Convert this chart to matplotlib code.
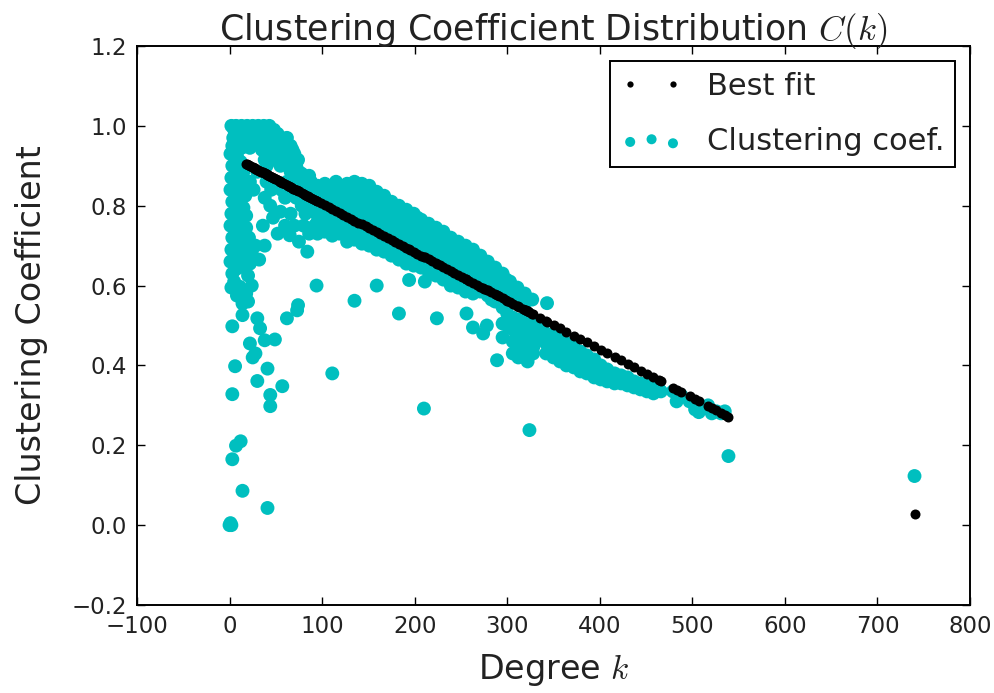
import numpy as np
import matplotlib
matplotlib.use("Agg")
import matplotlib.pyplot as plt

plt.rcParams['font.family'] = ['DejaVu Sans']
plt.rcParams['mathtext.fontset'] = 'cm'
plt.rcParams['axes.unicode_minus'] = True

# Low-degree nodes (k <= ~25), clustering 0.55 .. 0.95
column_points = [
    (1, 0.93), (4, 0.94), (8, 0.925), (13, 0.945),
    (3, 0.90), (7, 0.905), (12, 0.91),
    (2, 0.87), (6, 0.875), (10, 0.88), (15, 0.885),
    (1, 0.84), (5, 0.845), (9, 0.85), (14, 0.855), (19, 0.86),
    (3, 0.81), (7, 0.815), (12, 0.82), (17, 0.825),
    (2, 0.78), (6, 0.785), (10, 0.79), (15, 0.795), (18, 0.775),
    (1, 0.75), (4, 0.755), (9, 0.76), (13, 0.765), (18, 0.745),
    (3, 0.72), (7, 0.725), (11, 0.73), (16, 0.735), (21, 0.72),
    (2, 0.69), (6, 0.695), (10, 0.70), (14, 0.705), (19, 0.69), (24, 0.685),
    (1, 0.66), (4, 0.665), (8, 0.67), (12, 0.675), (17, 0.66), (22, 0.655),
    (3, 0.63), (6, 0.64), (10, 0.645), (15, 0.65), (20, 0.625),
    (5, 0.61), (11, 0.597), (18, 0.58), (20, 0.56), (2, 0.595), (24, 0.60),
    (8, 0.575), (14, 0.555),
]

# Nearly complete neighbourhoods (clustering close to 1)
cap_points = [
    (2, 1.0), (7, 1.0), (13, 1.0), (19, 1.0), (25, 1.0), (31, 1.0), (37, 1.0), (43, 1.0),
    (5, 0.99), (16, 0.99), (28, 0.99), (40, 0.99), (48, 0.99),
    (10, 0.98), (22, 0.98), (34, 0.98), (46, 0.98), (52, 0.98),
    (4, 0.97), (15, 0.97), (27, 0.97), (39, 0.97), (50, 0.97), (56, 0.97), (62, 0.97),
    (9, 0.96), (21, 0.96), (33, 0.96), (44, 0.96), (54, 0.96), (60, 0.96),
    (3, 0.95), (17, 0.95), (28, 0.955), (38, 0.95), (49, 0.95), (58, 0.95), (66, 0.95),
    (22, 0.945), (35, 0.94), (45, 0.94), (53, 0.94), (63, 0.94), (68, 0.94),
    (42, 0.93), (50, 0.93), (57, 0.93), (65, 0.93), (70, 0.93),
    (38, 0.915), (47, 0.915), (60, 0.915), (69, 0.915), (74, 0.915),
    (40, 0.90), (55, 0.90), (64, 0.90), (72, 0.90),
    (66, 0.885), (75, 0.885),
]

# Degrees 20..95 below the cap
mid_points = [
    (30, 0.885), (70, 0.88), (78, 0.88), (86, 0.875),
    (22, 0.86), (40, 0.86), (50, 0.86), (62, 0.86), (75, 0.86), (88, 0.86),
    (26, 0.84), (45, 0.84), (56, 0.84), (68, 0.84), (80, 0.84), (92, 0.84),
    (38, 0.82), (60, 0.82), (72, 0.82), (85, 0.82),
    (44, 0.80), (78, 0.80), (90, 0.80),
    (55, 0.785), (66, 0.78), (82, 0.78), (94, 0.78),
    (47, 0.77),
    (36, 0.75), (60, 0.75), (70, 0.75), (80, 0.75), (92, 0.75),
    (52, 0.73), (65, 0.726), (86, 0.73),
    (28, 0.70), (38, 0.70), (75, 0.71),
    (84, 0.685), (32, 0.665),
]

# Main band of mid-degree nodes
band_points = [
    (95, 0.85), (95, 0.82), (95, 0.79), (95, 0.76), (95, 0.73),
    (99, 0.835), (99, 0.805), (99, 0.775),
    (103, 0.855), (103, 0.825), (103, 0.795), (103, 0.765), (103, 0.735),
    (107, 0.84), (107, 0.78),
    (111, 0.845), (111, 0.815), (111, 0.785), (111, 0.755), (111, 0.725),
    (115, 0.86), (115, 0.83), (115, 0.77),
    (119, 0.85), (119, 0.82), (119, 0.79), (119, 0.76), (119, 0.73),
    (123, 0.835), (123, 0.775),
    (127, 0.855), (127, 0.825), (127, 0.795), (127, 0.765), (127, 0.735), (127, 0.71),
    (131, 0.84), (131, 0.78),
    (135, 0.86), (135, 0.83), (135, 0.80), (135, 0.77), (135, 0.74), (135, 0.715),
    (139, 0.845), (139, 0.755),
    (143, 0.855), (143, 0.825), (143, 0.795), (143, 0.765), (143, 0.735), (143, 0.705),
    (147, 0.84), (147, 0.78), (147, 0.72),
    (151, 0.85), (151, 0.82), (151, 0.79), (151, 0.76), (151, 0.73), (151, 0.70),
    (155, 0.835), (155, 0.745),
    (159, 0.835), (159, 0.805), (159, 0.775), (159, 0.745), (159, 0.715), (159, 0.69),
    (163, 0.82), (163, 0.76), (163, 0.70),
    (167, 0.825), (167, 0.795), (167, 0.765), (167, 0.735), (167, 0.705), (167, 0.685),
    (171, 0.81), (171, 0.72),
    (175, 0.81), (175, 0.78), (175, 0.75), (175, 0.72), (175, 0.69), (175, 0.675),
    (179, 0.795), (179, 0.735), (179, 0.68),
    (183, 0.80), (183, 0.77), (183, 0.74), (183, 0.71), (183, 0.68), (183, 0.665),
    (187, 0.785), (187, 0.695),
    (191, 0.79), (191, 0.76), (191, 0.73), (191, 0.70), (191, 0.675), (191, 0.655),
    (195, 0.775), (195, 0.715), (195, 0.665),
    (199, 0.78), (199, 0.75), (199, 0.72), (199, 0.69), (199, 0.665), (199, 0.65),
    (203, 0.77), (203, 0.68),
    (207, 0.765), (207, 0.735), (207, 0.705), (207, 0.675), (207, 0.645),
    (211, 0.75), (211, 0.69), (211, 0.655),
    (215, 0.755), (215, 0.725), (215, 0.695), (215, 0.665), (215, 0.635),
    (219, 0.74), (219, 0.65),
    (223, 0.745), (223, 0.715), (223, 0.685), (223, 0.655), (223, 0.625),
    (227, 0.73), (227, 0.67), (227, 0.64),
    (231, 0.735), (231, 0.705), (231, 0.675), (231, 0.645), (231, 0.615),
    (235, 0.72), (235, 0.63),
    (239, 0.72), (239, 0.69), (239, 0.66), (239, 0.63), (239, 0.60),
    (243, 0.705), (243, 0.645), (243, 0.615),
    (247, 0.71), (247, 0.68), (247, 0.65), (247, 0.62), (247, 0.595),
    (251, 0.695), (251, 0.605),
    (255, 0.70), (255, 0.67), (255, 0.64), (255, 0.61), (255, 0.585),
    (259, 0.685), (259, 0.625), (259, 0.60),
    (263, 0.69), (263, 0.66), (263, 0.63), (263, 0.60), (263, 0.58),
    (267, 0.67), (267, 0.59),
    (271, 0.675), (271, 0.645), (271, 0.615), (271, 0.585),
    (275, 0.66), (275, 0.60),
    (279, 0.66), (279, 0.63), (279, 0.60), (279, 0.575),
    (283, 0.645), (283, 0.565),
    (287, 0.645), (287, 0.615), (287, 0.585), (287, 0.56),
    (291, 0.63), (291, 0.57),
    (295, 0.63), (295, 0.60), (295, 0.57), (295, 0.545),
    (299, 0.615), (299, 0.56),
    (303, 0.61), (303, 0.585), (303, 0.555),
    (311, 0.595), (311, 0.565),
    (319, 0.58), (319, 0.555),
    (327, 0.565),
]

# High-degree nodes below the fitted trend
tail_points = [
    (300, 0.53), (300, 0.50),
    (306, 0.52), (306, 0.49), (306, 0.46),
    (313, 0.515), (313, 0.485), (313, 0.455),
    (320, 0.51), (320, 0.475), (320, 0.445),
    (328, 0.50), (328, 0.47), (328, 0.445),
    (335, 0.49), (335, 0.465),
    (342, 0.48), (342, 0.455), (342, 0.43),
    (350, 0.475), (350, 0.445), (350, 0.42),
    (357, 0.465), (357, 0.435), (357, 0.41),
    (364, 0.455), (364, 0.425), (364, 0.40),
    (372, 0.445), (372, 0.415), (372, 0.395),
    (379, 0.435), (379, 0.41), (379, 0.385),
    (386, 0.425), (386, 0.40), (386, 0.38),
    (394, 0.415), (394, 0.39), (394, 0.37),
    (401, 0.40), (401, 0.38), (401, 0.365),
    (408, 0.39), (408, 0.37), (408, 0.36),
    (416, 0.38), (416, 0.365), (416, 0.355),
    (423, 0.375), (423, 0.355),
    (430, 0.37), (430, 0.35),
    (437, 0.36), (437, 0.345),
    (444, 0.355), (444, 0.34),
    (451, 0.35), (451, 0.335),
    (458, 0.345), (458, 0.33),
    (464, 0.34), (466, 0.335),
    (479, 0.335), (483, 0.31), (488, 0.325),
    (497, 0.31), (503, 0.29), (507, 0.283),
    (517, 0.30), (521, 0.28), (526, 0.285), (531, 0.28), (535, 0.285),
    (539, 0.173), (740, 0.123),
]

# Isolated nodes away from the main groups
sparse_points = [
    (0, 0.0), (1, 0.005), (2, 0.0), (41, 0.043), (14, 0.086),
    (3, 0.165), (7, 0.199), (12, 0.21), (3, 0.328), (6, 0.398),
    (30, 0.361), (41, 0.392), (44, 0.326), (44, 0.298), (57, 0.348),
    (25, 0.42), (28, 0.43), (22, 0.455), (38, 0.463), (49, 0.465),
    (33, 0.493), (30, 0.518), (3, 0.498), (14, 0.526),
    (62, 0.518), (73, 0.538), (74, 0.551), (94, 0.60), (111, 0.38),
    (135, 0.562), (159, 0.60), (183, 0.53), (194, 0.614), (211, 0.61),
    (210, 0.292), (224, 0.518), (256, 0.53), (263, 0.495), (278, 0.50),
    (274, 0.48), (295, 0.505), (295, 0.47), (289, 0.413), (321, 0.48),
    (324, 0.468), (317, 0.44), (328, 0.43), (312, 0.42), (322, 0.41),
    (306, 0.43), (343, 0.556), (324, 0.238),
]

# Linear least-squares trend C(k) = a + b k, drawn for k >= fit_kmin
fit_intercept = 0.927
fit_slope = -0.001216
fit_kmin = 18

all_points = (column_points + cap_points + mid_points + band_points
              + tail_points + sparse_points)
degree = np.array([p[0] for p in all_points], dtype=float)
clustering = np.array([p[1] for p in all_points], dtype=float)

fit_degree = np.unique(degree[degree >= fit_kmin])
fit_clustering = fit_intercept + fit_slope * fit_degree

fig = plt.figure(figsize=(9.94, 6.93), dpi=100)
ax = fig.add_axes([0.1378, 0.127, 0.8381, 0.8066])

sc = ax.scatter(degree, clustering, s=100, c='c', edgecolors='none',
                zorder=2, label='Clustering coef.')
ln, = ax.plot(fit_degree, fit_clustering, linestyle='none', marker='o',
              color='k', markersize=7.2, markeredgewidth=0, zorder=3,
              label='Best fit')

ax.set_xlim(-100, 800)
ax.set_ylim(-0.2, 1.2)
ax.set_xticks(np.arange(-100, 801, 100))
ax.set_yticks(np.round(np.arange(-0.2, 1.21, 0.2), 1))

ax.tick_params(direction='in', top=True, right=True, length=6, width=1,
               labelsize=16.5, pad=7, colors='k', labelcolor='#222222')
for sp in ax.spines.values():
    sp.set_linewidth(1.4)

ax.set_title('Clustering Coefficient Distribution $C(k)$', fontsize=25,
             color='#222222', pad=4)
ax.set_xlabel('Degree $k$', fontsize=24, color='#222222', labelpad=10)
ax.set_ylabel('Clustering Coefficient', fontsize=24, color='#222222', labelpad=17)

leg = ax.legend(handles=[ln, sc], loc='upper right', numpoints=2,
                scatterpoints=3, scatteryoffsets=[0.375, 0.5, 0.3125],
                fontsize=22, frameon=True, fancybox=False, framealpha=1,
                edgecolor='k', borderaxespad=0.5, borderpad=0.35,
                handletextpad=0.8, labelspacing=0.85)
leg.get_frame().set_linewidth(1.4)
leg.legend_handles[0].set_markersize(4.5)
leg.legend_handles[1].set_sizes([52])
for t in leg.get_texts():
    t.set_color('#222222')

fig.savefig('out.png', dpi=100)
